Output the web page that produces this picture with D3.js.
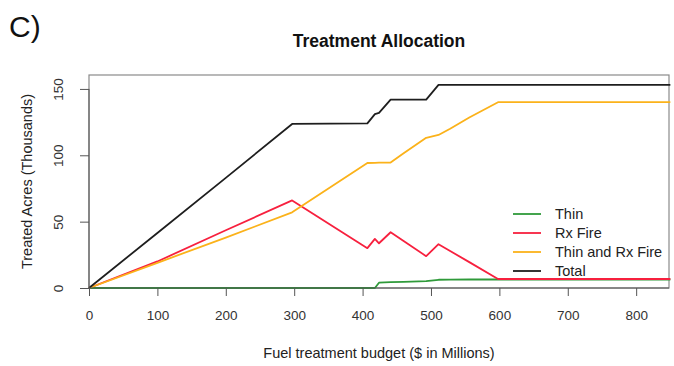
<!DOCTYPE html>
<html>
<head>
<meta charset="utf-8">
<script src="https://cdn.jsdelivr.net/npm/d3@7"></script>
<style>
  html, body { margin: 0; padding: 0; background: #fff; }
  svg { display: block; font-family: "Liberation Sans", Arial, sans-serif; }
</style>
</head>
<body>
<svg id="chart" width="674" height="366"></svg>
<script>
// Budget grid ($ millions) shared by all series
const budget = [0, 100, 200, 297, 407, 418, 424, 441, 460, 493, 511, 528, 556, 598, 850];

// Treated acres (thousands) per treatment type
const thin       = [0, 0, 0, 0, 0, 0, 4.0, 4.4, 4.6, 5.2, 6.2, 6.3, 6.4, 6.4, 6.4];
const rxFire     = [0, 20, 43.5, 66, 30, 37, 33.7, 42, 35.4, 24, 33, 27.9, 19.5, 6.8, 6.8];
const thinAndRx  = [0, 19, 38, 57, 94.2, 94.3, 94.4, 94.5, 101.5, 113.2, 115.3, 120, 128.5, 140, 140];
const total      = [0, 41.5, 83, 123.6, 124, 131, 132, 142, 142, 142, 153, 153, 153, 153, 153];

const seriesNames  = ["Thin", "Rx Fire", "Thin and Rx Fire", "Total"];
const seriesValues = [thin, rxFire, thinAndRx, total];
const seriesColors = ["#2f9a3a", "#f7203e", "#fbb21a", "#1e1e1e"];

const xTicks = [0, 100, 200, 300, 400, 500, 600, 700, 800];
const yTicks = [0, 50, 100, 150];

const svg = d3.select("#chart");
const plot = { left: 89, right: 669, top: 75, bottom: 288 };

const x = d3.scaleLinear().domain([0, 848]).range([plot.left, plot.right]);
const y = d3.scaleLinear().domain([0, 160.5]).range([plot.bottom, plot.top]);

// Panel letter and title
svg.append("text")
  .attr("x", 9).attr("y", 37)
  .attr("font-size", 30).attr("fill", "#111")
  .text("C)");

svg.append("text")
  .attr("x", (plot.left + plot.right) / 2).attr("y", 47)
  .attr("text-anchor", "middle")
  .attr("font-size", 17.5).attr("font-weight", "bold").attr("fill", "#111")
  .text("Treatment Allocation");

// Plot frame
svg.append("rect")
  .attr("x", plot.left).attr("y", plot.top)
  .attr("width", plot.right - plot.left).attr("height", plot.bottom - plot.top)
  .attr("fill", "none").attr("stroke", "#8a8a8a").attr("stroke-width", 1.2);

// Series lines
const line = d3.line()
  .x((d, i) => x(budget[i]))
  .y(d => y(d));

seriesValues.forEach((vals, k) => {
  svg.append("path")
    .datum(vals)
    .attr("d", line)
    .attr("fill", "none")
    .attr("stroke", seriesColors[k])
    .attr("stroke-width", 1.8)
    .attr("stroke-linejoin", "round");
});

// Axes
const xAxis = d3.axisBottom(x).tickValues(xTicks).tickSize(8).tickPadding(14);
const gx = svg.append("g")
  .attr("transform", `translate(0,${plot.bottom})`)
  .call(xAxis);
gx.select(".domain").attr("stroke", "#555").attr("d", `M${plot.left},0H${plot.right}`);
gx.selectAll(".tick line").attr("stroke", "#555");
gx.selectAll(".tick text").attr("font-size", 13.5).attr("fill", "#333")
  .attr("font-family", "Liberation Sans, Arial, sans-serif");

const yAxis = d3.axisLeft(y).tickValues(yTicks).tickSize(9).tickPadding(0);
const gy = svg.append("g")
  .attr("transform", `translate(${plot.left},0)`)
  .call(yAxis);
gy.select(".domain").attr("stroke", "#555").attr("d", `M0,${y(0)}V${y(150)}`);
gy.selectAll(".tick line").attr("stroke", "#555");
gy.selectAll(".tick text")
  .attr("font-size", 13.5).attr("fill", "#333")
  .attr("font-family", "Liberation Sans, Arial, sans-serif")
  .attr("x", null)
  .attr("text-anchor", "middle")
  .attr("transform", "translate(-31,0) rotate(-90)")
  .attr("dy", "0.35em");

// Axis titles
svg.append("text")
  .attr("transform", `translate(32,${(plot.top + plot.bottom) / 2}) rotate(-90)`)
  .attr("text-anchor", "middle")
  .attr("font-size", 14.5).attr("fill", "#222")
  .text("Treated Acres (Thousands)");

svg.append("text")
  .attr("x", (plot.left + plot.right) / 2).attr("y", 358)
  .attr("text-anchor", "middle")
  .attr("font-size", 14.5).attr("fill", "#222")
  .text("Fuel treatment budget ($ in Millions)");

// Legend
const legend = svg.append("g").attr("transform", "translate(513,214)");
seriesNames.forEach((name, k) => {
  const g = legend.append("g").attr("transform", `translate(0,${k * 19})`);
  g.append("line")
    .attr("x1", 0).attr("x2", 28)
    .attr("stroke", seriesColors[k]).attr("stroke-width", 1.8);
  g.append("text")
    .attr("x", 42).attr("dy", "0.35em")
    .attr("font-size", 14.5).attr("fill", "#222")
    .text(name);
});
</script>
</body>
</html>
